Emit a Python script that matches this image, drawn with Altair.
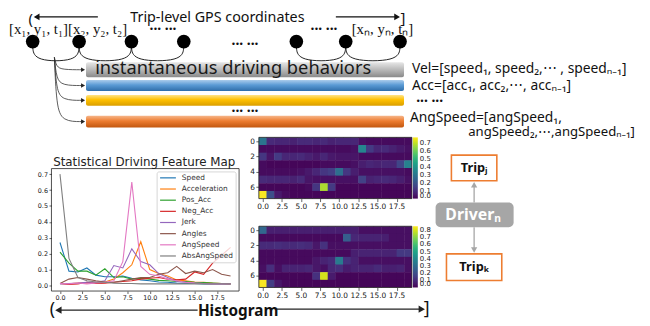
import altair as alt
import pandas as pd

# ================= values =================
bins = list(range(20))
series_names = ["Speed", "Acceleration", "Pos_Acc", "Neg_Acc", "Jerk", "Angles", "AngSpeed", "AbsAngSpeed"]
series_colors = ["#1f77b4", "#ff7f0e", "#2ca02c", "#d62728", "#9467bd", "#8c564b", "#e377c2", "#7f7f7f"]
speed = [0.27, 0.09, 0.085, 0.11, 0.065, 0.055, 0.055, 0.06, 0.045, 0.035, 0.03, 0.022, 0.02, 0.015, 0.013, 0.012, 0.01, 0.01, 0.01, 0.01]
acceleration = [0.012, 0.01, 0.015, 0.015, 0.02, 0.022, 0.04, 0.08, 0.13, 0.275, 0.10, 0.075, 0.06, 0.035, 0.03, 0.022, 0.02, 0.015, 0.012, 0.01]
pos_acc = [0.21, 0.14, 0.09, 0.09, 0.065, 0.105, 0.05, 0.055, 0.04, 0.045, 0.04, 0.032, 0.03, 0.025, 0.025, 0.02, 0.018, 0.015, 0.012, 0.01]
neg_acc = [0.012, 0.006, 0.01, 0.02, 0.012, 0.015, 0.02, 0.025, 0.03, 0.04, 0.045, 0.05, 0.04, 0.035, 0.04, 0.085, 0.07, 0.14, 0.19, 0.24]
jerk = [0.01, 0.012, 0.015, 0.02, 0.02, 0.03, 0.125, 0.11, 0.23, 0.15, 0.13, 0.075, 0.05, 0.025, 0.02, 0.015, 0.012, 0.01, 0.01, 0.01]
angles = [0.012, 0.04, 0.05, 0.04, 0.03, 0.022, 0.02, 0.03, 0.04, 0.05, 0.05, 0.07, 0.08, 0.12, 0.075, 0.09, 0.08, 0.10, 0.07, 0.06]
angspeed = [0.012, 0.01, 0.015, 0.01, 0.015, 0.02, 0.03, 0.15, 0.65, 0.12, 0.07, 0.06, 0.04, 0.03, 0.02, 0.015, 0.012, 0.01, 0.01, 0.01]
absangspeed = [0.70, 0.17, 0.05, 0.03, 0.022, 0.02, 0.015, 0.012, 0.012, 0.01, 0.01, 0.01, 0.01, 0.01, 0.01, 0.01, 0.01, 0.01, 0.01, 0.01]
series_values = [speed, acceleration, pos_acc, neg_acc, jerk, angles, angspeed, absangspeed]
line_x_ticks = [0.0, 2.5, 5.0, 7.5, 10.0, 12.5, 15.0, 17.5]
line_y_ticks = [0.0, 0.1, 0.2, 0.3, 0.4, 0.5, 0.6, 0.7]

heat_rows = list(range(8))
heat_y_ticks = [0, 2, 4, 6]
trip_j = [
    [0.30, 0.09, 0.08, 0.08, 0.07, 0.09, 0.09, 0.08, 0.09, 0.07, 0.08, 0.08, 0.08, 0.03, 0.02, 0.02, 0.02, 0.02, 0.02, 0.02],
    [0.02, 0.02, 0.02, 0.02, 0.02, 0.02, 0.02, 0.02, 0.02, 0.02, 0.02, 0.02, 0.03, 0.35, 0.13, 0.08, 0.09, 0.07, 0.05, 0.03],
    [0.12, 0.04, 0.13, 0.08, 0.08, 0.09, 0.07, 0.05, 0.08, 0.05, 0.04, 0.04, 0.04, 0.02, 0.02, 0.02, 0.02, 0.02, 0.02, 0.02],
    [0.02, 0.01, 0.01, 0.01, 0.01, 0.01, 0.01, 0.01, 0.02, 0.02, 0.02, 0.02, 0.03, 0.06, 0.08, 0.07, 0.08, 0.08, 0.16, 0.34],
    [0.02, 0.02, 0.02, 0.02, 0.02, 0.03, 0.05, 0.08, 0.12, 0.14, 0.28, 0.12, 0.06, 0.03, 0.03, 0.03, 0.03, 0.03, 0.03, 0.02],
    [0.09, 0.08, 0.08, 0.08, 0.07, 0.09, 0.04, 0.03, 0.03, 0.03, 0.03, 0.03, 0.03, 0.15, 0.07, 0.08, 0.09, 0.08, 0.06, 0.03],
    [0.01, 0.01, 0.01, 0.01, 0.01, 0.01, 0.02, 0.12, 0.68, 0.13, 0.01, 0.01, 0.01, 0.01, 0.01, 0.01, 0.01, 0.01, 0.01, 0.01],
    [0.77, 0.18, 0.05, 0.02, 0.01, 0.01, 0.01, 0.01, 0.01, 0.01, 0.01, 0.01, 0.01, 0.01, 0.01, 0.01, 0.01, 0.01, 0.01, 0.01],
]
trip_k = [
    [0.28, 0.07, 0.07, 0.07, 0.07, 0.07, 0.07, 0.07, 0.07, 0.07, 0.07, 0.07, 0.07, 0.03, 0.03, 0.03, 0.03, 0.03, 0.03, 0.03],
    [0.02, 0.02, 0.02, 0.02, 0.02, 0.02, 0.02, 0.02, 0.02, 0.02, 0.02, 0.25, 0.09, 0.08, 0.08, 0.08, 0.07, 0.03, 0.03, 0.03],
    [0.10, 0.10, 0.11, 0.10, 0.10, 0.11, 0.10, 0.05, 0.12, 0.03, 0.03, 0.03, 0.03, 0.03, 0.03, 0.03, 0.03, 0.03, 0.03, 0.03],
    [0.02, 0.02, 0.02, 0.02, 0.02, 0.02, 0.02, 0.02, 0.02, 0.02, 0.02, 0.02, 0.07, 0.08, 0.08, 0.08, 0.08, 0.08, 0.14, 0.14],
    [0.02, 0.02, 0.02, 0.02, 0.02, 0.02, 0.02, 0.05, 0.08, 0.10, 0.35, 0.12, 0.08, 0.03, 0.03, 0.03, 0.03, 0.03, 0.03, 0.03],
    [0.03, 0.11, 0.03, 0.08, 0.08, 0.08, 0.09, 0.05, 0.03, 0.09, 0.11, 0.06, 0.08, 0.08, 0.08, 0.10, 0.07, 0.07, 0.08, 0.03],
    [0.01, 0.01, 0.01, 0.01, 0.01, 0.01, 0.01, 0.12, 0.80, 0.06, 0.01, 0.01, 0.01, 0.01, 0.01, 0.01, 0.01, 0.01, 0.01, 0.01],
    [0.85, 0.15, 0.05, 0.02, 0.01, 0.01, 0.01, 0.01, 0.01, 0.01, 0.01, 0.01, 0.01, 0.01, 0.01, 0.01, 0.01, 0.01, 0.01, 0.01],
]
cbar_j_ticks = [0.0, 0.1, 0.2, 0.3, 0.4, 0.5, 0.6, 0.7]
cbar_k_ticks = [0.0, 0.1, 0.2, 0.3, 0.4, 0.5, 0.6, 0.7, 0.8]
cbar_j_max = 0.775
cbar_k_max = 0.855

gps_points = ["p1", "p2", "p3", "p4", "pn-2", "pn-1", "pn"]
behaviours = ["Vel", "Acc", "Speed3", "AngSpeed"]

# ================= layout (reference pixel coordinates) =================
OX, OY = 8, 8          # page margin
W, H = 642, 318

SANS = "Noto Sans"
SERIF = "Liberation Serif"
MPL = "DejaVu Sans"


def xs():
    return alt.Scale(domain=[OX, OX + W], range=[0, W], nice=False, zero=False)


def ys():
    return alt.Scale(domain=[OY, OY + H], range=[0, H], nice=False, zero=False)


def PX(f="x"):
    return alt.X(f"{f}:Q", scale=xs(), axis=None)


def PY(f="y"):
    return alt.Y(f"{f}:Q", scale=ys(), axis=None)


# ---- texts ----
DOTS = "\u00b7\u00b7\u00b7 \u00b7\u00b7\u00b7"
texts = [
    ("Trip-level GPS coordinates", 220, 16, 14.5, "#111111", SANS, "normal", "center"),
    ("[x\u2081, y\u2081, t\u2081][x\u2082, y\u2082, t\u2082]", 9, 27, 15, "#111111", SERIF, "normal", "left"),
    ("[x\u2099, y\u2099, t\u2099]", 356, 27, 15, "#111111", SERIF, "normal", "left"),
    (DOTS, 165, 28, 14, "#111111", SANS, "bold", "center"),
    (DOTS, 328, 28, 14, "#111111", SANS, "bold", "center"),
    (DOTS, 248, 44, 14, "#111111", SANS, "bold", "center"),
    (DOTS, 248, 111, 14, "#111111", SANS, "bold", "center"),
    (DOTS, 435, 101, 14, "#111111", SANS, "bold", "center"),
    ("instantaneous driving behaviors", 236, 67, 18.5, "#1a1a1a", SANS, "normal", "center"),
    ("Vel=[speed\u2081, speed\u2082,\u22ef , speed\u2099\u208b\u2081]", 417, 68, 14, "#111111", SANS, "normal", "left"),
    ("Acc=[acc\u2081, acc\u2082,\u22ef, acc\u2099\u208b\u2081]", 417, 85, 14, "#111111", SANS, "normal", "left"),
    ("AngSpeed=[angSpeed\u2081,", 415, 117, 14, "#111111", SANS, "normal", "left"),
    ("angSpeed\u2082,\u22ef,angSpeed\u2099\u208b\u2081]", 474, 132, 13.3, "#111111", SANS, "normal", "left"),
    ("Statistical Driving Feature Map", 146, 162, 12, "#222222", MPL, "normal", "center"),
    ("Histogram", 241, 313, 15.5, "#111111", SANS, "bold", "center"),
    ("(", 53, 312, 18, "#111111", SANS, "normal", "center"),
    ("]", 432, 311, 18, "#111111", SANS, "normal", "center"),
    ("(", 31, 17, 15, "#111111", SANS, "normal", "center"),
    ("]", 408, 16, 15, "#111111", SANS, "normal", "center"),
    ("Trip\u2c7c", 480, 168, 13, "#111111", SANS, "bold", "center"),
    ("Trip\u2096", 480, 268, 13, "#111111", SANS, "bold", "center"),
    ("Driver\u2099", 479, 216, 16, "#ffffff", SANS, "bold", "center"),
]
for i, name in enumerate(series_names):
    texts.append((name, 184, 178 + 11.3 * i, 7.5, "#333333", MPL, "normal", "left"))
text_df = pd.DataFrame(texts, columns=["text", "x", "y", "size", "color", "font", "weight", "align"])

text_layers = []
for (font, weight, align), sub in text_df.groupby(["font", "weight", "align"]):
    text_layers.append(
        alt.Chart(sub.reset_index(drop=True)).mark_text(font=font, fontWeight=weight, align=align, baseline="middle").encode(
            x=PX(), y=PY(), text="text:N",
            size=alt.Size("size:Q", scale=None),
            color=alt.Color("color:N", scale=None),
        )
    )

# ---- GPS circles ----
circle_x = [33, 80, 133, 186, 300, 350, 405]
circ_df = pd.DataFrame({"id": gps_points, "x": circle_x, "y": [40] * len(circle_x)})
circles = alt.Chart(circ_df).mark_circle(size=190, color="black", opacity=1).encode(x=PX(), y=PY())

# ---- arcs between consecutive points ----
arc_rows = []
for k, (a, b) in enumerate([(0, 1), (1, 2), (2, 3), (4, 5), (5, 6)]):
    x0, x1 = circle_x[a], circle_x[b]
    for j, (px, py) in enumerate([(x0, 46), (x0 + 2, 60), (x1 - 2, 60), (x1, 46)]):
        arc_rows.append({"id": k, "o": j, "x": px, "y": py})
arcs = alt.Chart(pd.DataFrame(arc_rows)).mark_line(interpolate="basis", color="#222222", strokeWidth=1).encode(
    x=PX(), y=PY(), detail="id:N", order="o:Q")

# ---- behaviour bars ----
bar_pos = {"Vel": (61, 76), "Acc": (79, 90), "Speed3": (94, 105), "AngSpeed": (115, 127)}
bar_grad = {
    "Vel": ["#e6e6e6", "#bdbdbd", "#8a8a8a"],
    "Acc": ["#a9cbeb", "#5b9bd5", "#2f6eaa"],
    "Speed3": ["#ffe48a", "#ffc000", "#d99e00"],
    "AngSpeed": ["#f6b78c", "#ed7d31", "#c2570f"],
}
bar_layers = []
fan_rows, head_rows = [], []
for k, name in enumerate(behaviours):
    y0, y1 = bar_pos[name]
    c = bar_grad[name]
    grad = alt.Gradient(gradient="linear", x1=0, x2=0, y1=0, y2=1,
                        stops=[alt.GradientStop(color=c[0], offset=0), alt.GradientStop(color=c[1], offset=0.45),
                               alt.GradientStop(color=c[2], offset=1)])
    bdf = pd.DataFrame({"name": [name], "x": [87], "x2": [409], "y": [y0], "y2": [y1]})
    bar_layers.append(alt.Chart(bdf).mark_rect(color=grad, cornerRadius=2).encode(
        x=PX(), x2="x2:Q", y=PY(), y2="y2:Q"))
    yc = (y0 + y1) / 2
    for j, (px, py) in enumerate([(55, 56), (57, 56 + (yc - 56) * 0.75), (63, yc), (84, yc)]):
        fan_rows.append({"id": k, "o": j, "x": px, "y": py})
    head_rows.append({"x": 84, "y": yc, "shape": "triangle-right", "size": 22, "color": "#222222"})
fans = alt.Chart(pd.DataFrame(fan_rows)).mark_line(interpolate="basis", color="#333333", strokeWidth=0.8).encode(
    x=PX(), y=PY(), detail="id:N", order="o:Q")

# ---- straight arrows ----
rules = pd.DataFrame([
    {"x": 99, "x2": 36, "y": 15, "y2": 15, "color": "#111111"},
    {"x": 340, "x2": 403, "y": 15, "y2": 15, "color": "#111111"},
    {"x": 200, "x2": 58, "y": 312, "y2": 312, "color": "#222222"},
    {"x": 280, "x2": 428, "y": 311, "y2": 311, "color": "#222222"},
    {"x": 480, "x2": 480, "y": 203, "y2": 185, "color": "#a6a6a6"},
    {"x": 480, "x2": 480, "y": 228, "y2": 251, "color": "#a6a6a6"},
])
rule_layer = alt.Chart(rules).mark_rule(strokeWidth=1.3).encode(
    x=PX(), x2="x2:Q", y=PY(), y2="y2:Q", color=alt.Color("color:N", scale=None))
head_rows += [
    {"x": 37, "y": 15, "shape": "triangle-left", "size": 45, "color": "#111111"},
    {"x": 402, "y": 15, "shape": "triangle-right", "size": 45, "color": "#111111"},
    {"x": 59, "y": 312, "shape": "triangle-left", "size": 55, "color": "#222222"},
    {"x": 427, "y": 311, "shape": "triangle-right", "size": 55, "color": "#222222"},
    {"x": 480, "y": 185, "shape": "triangle-up", "size": 40, "color": "#a6a6a6"},
    {"x": 480, "y": 251, "shape": "triangle-down", "size": 40, "color": "#a6a6a6"},
]
heads = alt.Chart(pd.DataFrame(head_rows)).mark_point(filled=True, opacity=1, strokeWidth=0).encode(
    x=PX(), y=PY(), shape=alt.Shape("shape:N", scale=None), size=alt.Size("size:Q", scale=None),
    color=alt.Color("color:N", scale=None))

# ---- boxes ----
trip_boxes = alt.Chart(pd.DataFrame([
    {"x": 457, "x2": 503, "y": 155, "y2": 181},
    {"x": 452, "x2": 508, "y": 255, "y2": 282},
])).mark_rect(fill="white", stroke="#ed7d31", strokeWidth=1.6).encode(x=PX(), x2="x2:Q", y=PY(), y2="y2:Q")
driver_box = alt.Chart(pd.DataFrame([{"x": 441, "x2": 520, "y": 203, "y2": 228}])).mark_rect(
    fill="#a6a6a6", cornerRadius=5).encode(x=PX(), x2="x2:Q", y=PY(), y2="y2:Q")

# ---- frames of the plots ----
frames = alt.Chart(pd.DataFrame([
    {"x": 52, "x2": 242, "y": 168.6, "y2": 292.6},
    {"x": 262, "x2": 417, "y": 137, "y2": 199},
    {"x": 262, "x2": 417, "y": 227, "y2": 289},
])).mark_rect(filled=False, stroke="#222222", strokeWidth=0.8).encode(x=PX(), x2="x2:Q", y=PY(), y2="y2:Q")

# ---- legend of the line chart ----
legend_box = alt.Chart(pd.DataFrame([{"x": 159, "x2": 239, "y": 172, "y2": 264}])).mark_rect(
    fill="white", fillOpacity=0.8, stroke="#cccccc", strokeWidth=0.8, cornerRadius=2).encode(
    x=PX(), x2="x2:Q", y=PY(), y2="y2:Q")
leg_df = pd.DataFrame({"series": series_names, "color": series_colors,
                       "x": [162] * 8, "x2": [178] * 8, "y": [178 + 11.3 * i for i in range(8)]})
legend_lines = alt.Chart(leg_df).mark_rule(strokeWidth=1.2).encode(
    x=PX(), x2="x2:Q", y=PY(), color=alt.Color("color:N", scale=None))

pixel_layer = alt.layer(
    *bar_layers, fans, arcs, circles, rule_layer, heads, driver_box, trip_boxes, frames,
    legend_box, legend_lines, *text_layers
)

# ================= line chart =================
line_df = pd.DataFrame([{"bin": b, "value": v, "series": n, "k": si}
                        for si, (n, vals) in enumerate(zip(series_names, series_values))
                        for b, v in zip(bins, vals)])
axis_common = dict(labelFont=MPL, labelColor="#222222", tickColor="#222222", tickWidth=0.7,
                   domain=False, grid=False, title=None, labelFlush=False, labelOverlap=False)
line_chart = alt.Chart(line_df).mark_line(strokeWidth=1.1).encode(
    x=alt.X("bin:Q", scale=alt.Scale(domain=[-0.95, 19.95], range=[52 - OX, 242 - OX], nice=False, zero=False),
            axis=alt.Axis(orient="bottom", offset=292.6 - OY - H, values=line_x_ticks, format=".1f",
                          labelFontSize=6.5, tickSize=2.5, labelPadding=1.5, **axis_common)),
    y=alt.Y("value:Q", scale=alt.Scale(domain=[-0.035, 0.735], range=[292.6 - OY, 168.6 - OY], nice=False, zero=False),
            axis=alt.Axis(orient="left", offset=-(52 - OX), values=line_y_ticks, format=".1f",
                          labelFontSize=6.5, tickSize=2.5, labelPadding=1.5, **axis_common)),
    color=alt.Color("series:N", scale=alt.Scale(domain=series_names, range=series_colors), legend=None),
    order="k:Q",
)


# ================= heatmaps =================
def heatmap(matrix, top, vmax, cticks):
    df = pd.DataFrame([{"row": r, "col": c, "value": matrix[r][c]} for r in heat_rows for c in bins])
    cs = alt.Scale(scheme="viridis", domain=[0, vmax])
    return alt.Chart(df).transform_calculate(
        c0="datum.col - 0.5", c1="datum.col + 0.56", r0="datum.row - 0.5", r1="datum.row + 0.56"
    ).mark_rect(strokeWidth=0).encode(
        x=alt.X("c0:Q", scale=alt.Scale(domain=[-0.5, 19.5], range=[262 - OX, 417 - OX], nice=False, zero=False, clamp=True),
                axis=alt.Axis(orient="bottom", offset=top + 62 - OY - H, values=line_x_ticks, format=".1f",
                              labelFontSize=7.5, tickSize=3, labelPadding=1, **axis_common)),
        x2="c1:Q",
        y=alt.Y("r0:Q", scale=alt.Scale(domain=[-0.5, 7.5], range=[top - OY, top + 62 - OY], nice=False, zero=False, clamp=True),
                axis=alt.Axis(orient="left", offset=-(262 - OX), values=heat_y_ticks, format="d",
                              labelFontSize=7.5, tickSize=3, labelPadding=1.5, **axis_common)),
        y2="r1:Q",
        color=alt.Color("value:Q", scale=cs, legend=alt.Legend(
            type="gradient", orient="none", legendX=418 - OX, legendY=top - OY, direction="vertical", title=None,
            gradientLength=62, gradientThickness=5, gradientStrokeWidth=0, values=cticks, format=".1f",
            labelFont=MPL, labelFontSize=7, labelColor="#222222", labelOffset=2, labelOverlap=False,
            labelBaseline="middle")),
    )


heat_j = heatmap(trip_j, 137, cbar_j_max, cbar_j_ticks)
heat_k = heatmap(trip_k, 227, cbar_k_max, cbar_k_ticks)

chart = alt.layer(line_chart, heat_j, heat_k, pixel_layer).resolve_scale(
    x="independent", y="independent", color="independent",
    size="independent", shape="independent"
).resolve_axis(x="independent", y="independent").resolve_legend(
    color="independent"
).properties(
    width=W, height=H, padding=0, autosize=alt.AutoSizeParams(type="none"), background="white"
).configure_view(stroke=None)

chart.save("out.html", embed_options={"renderer": "svg", "actions": False})
